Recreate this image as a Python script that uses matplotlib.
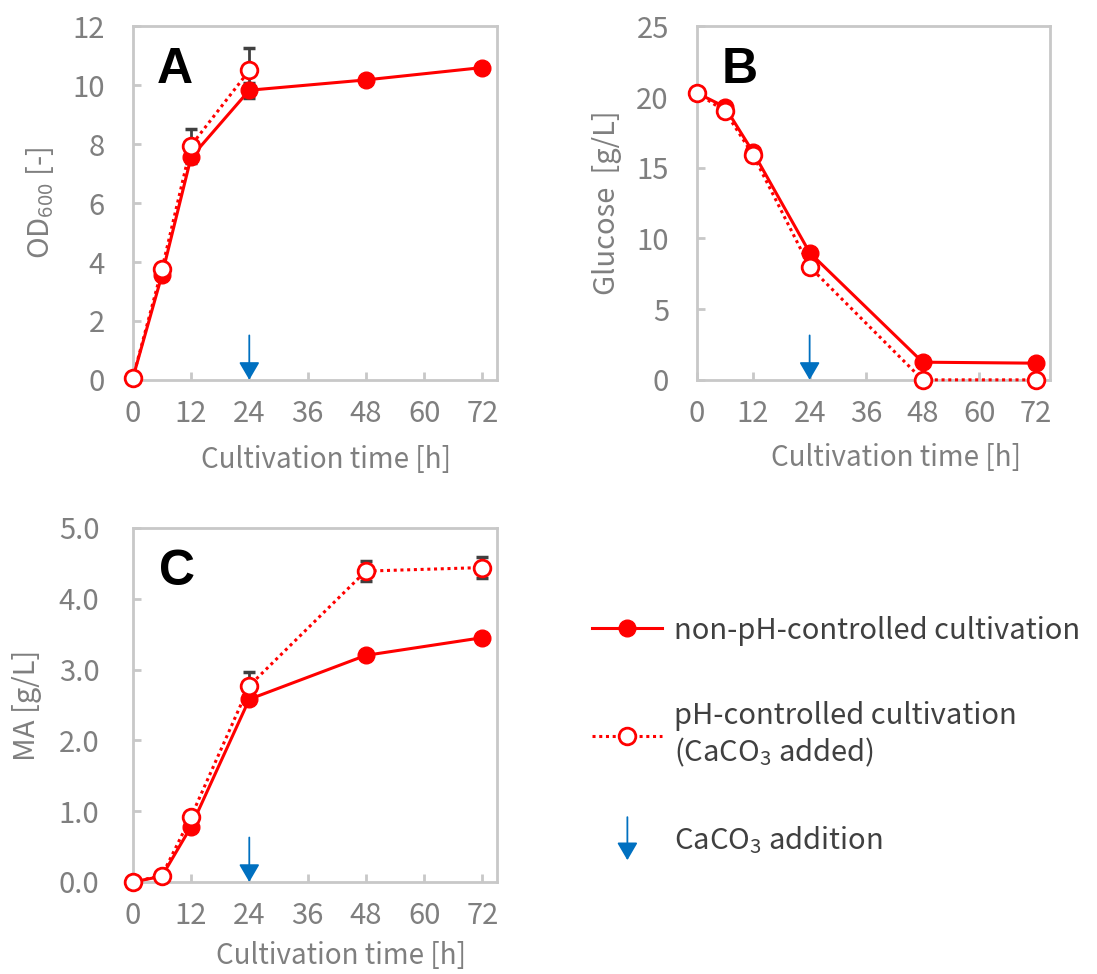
import numpy as np
import matplotlib
matplotlib.use("Agg")
import matplotlib.pyplot as plt
from matplotlib.ticker import FormatStrFormatter
from matplotlib.patches import FancyArrowPatch
from matplotlib.legend_handler import HandlerBase

plt.rcParams['font.family'] = ['Noto Sans CJK JP', 'DejaVu Sans']
plt.rcParams['mathtext.fontset'] = 'custom'
plt.rcParams['mathtext.rm'] = 'Noto Sans CJK JP'
plt.rcParams['mathtext.default'] = 'regular'

# data
time = [0, 6, 12, 24, 48, 72]
time_ph_a = [0, 6, 12, 24]

od_non = [0.05, 3.55, 7.55, 9.83, 10.18, 10.6]
od_non_err = [0, 0.05, 0.2, 0.25, 0, 0]
od_ph = [0.05, 3.75, 7.95, 10.5]
od_ph_err = [0, 0.1, 0.55, 0.75]

glc_non = [20.3, 19.3, 16.1, 9.0, 1.25, 1.18]
glc_ph = [20.3, 19.0, 15.9, 8.0, 0.0, 0.0]

ma_non = [0.0, 0.08, 0.78, 2.58, 3.2, 3.45]
ma_ph = [0.0, 0.09, 0.92, 2.77, 4.39, 4.44]
ma_ph_err = [0, 0, 0, 0.2, 0.14, 0.15]

caco3_time = 24
xticks = [0, 12, 24, 36, 48, 60, 72]

RED = '#ff0000'
BLUE = '#0070c0'
GRAY_TXT = '#7f7f7f'
GRAY_AX = '#c8c8c8'
ERR = '#404040'
FS = 21

fig = plt.figure(figsize=(10.97, 9.74), dpi=100)
axA = fig.add_axes([0.121, 0.610, 0.332, 0.363])
axB = fig.add_axes([0.635, 0.610, 0.322, 0.363])
axC = fig.add_axes([0.121, 0.0945, 0.332, 0.3635])


def style_axis(ax, ymax, ystep, fmt, ypad, label, ylab_x, xlab_xy, letter, letter_x):
    ax.set_xlim(0, 75)
    ax.set_ylim(0, ymax)
    ax.set_xticks(xticks)
    ax.set_yticks(np.arange(0, ymax + ystep / 2, ystep))
    ax.yaxis.set_major_formatter(FormatStrFormatter(fmt))
    for s in ax.spines.values():
        s.set_color(GRAY_AX)
        s.set_linewidth(2)
    ax.tick_params(direction='in', length=6, width=2, color=GRAY_AX,
                   labelsize=FS, labelcolor=GRAY_TXT)
    ax.tick_params(axis='x', pad=14)
    ax.tick_params(axis='y', pad=ypad)
    ax.set_ylabel(label, fontsize=FS, color=GRAY_TXT)
    ax.yaxis.set_label_coords(ylab_x, 0.5)
    ax.yaxis.label.set_va('center')
    ax.set_xlabel('Cultivation time [h]', fontsize=20, color=GRAY_TXT)
    ax.xaxis.set_label_coords(xlab_xy[0], xlab_xy[1])
    ax.xaxis.label.set_va('center')
    ax.text(letter_x, 0.84, letter, transform=ax.transAxes, fontsize=36,
            fontweight='bold', family='Liberation Sans', ha='left',
            va='baseline', color='black')
    ax.annotate('', xy=(caco3_time, 0), xytext=(0, 32), textcoords='offset points',
                arrowprops=dict(arrowstyle='-|>,head_length=0.6,head_width=0.35',
                                mutation_scale=18, color=BLUE, lw=1.3,
                                shrinkA=0, shrinkB=0), zorder=6)


def draw(ax, t1, y1, e1, t2, y2, e2):
    if e1 is not None:
        ax.errorbar(t1, y1, yerr=e1, fmt='none', ecolor=ERR, elinewidth=2,
                    capsize=4, capthick=2.5, zorder=2, clip_on=False)
    if e2 is not None:
        ax.errorbar(t2, y2, yerr=e2, fmt='none', ecolor=ERR, elinewidth=2,
                    capsize=4, capthick=2.5, zorder=2, clip_on=False)
    l1, = ax.plot(t1, y1, '-', color=RED, lw=2.2, marker='o', ms=12,
                  mfc=RED, mec=RED, zorder=3, clip_on=False)
    l2, = ax.plot(t2, y2, linestyle=(0, (1, 1.2)), color=RED, lw=2.2, marker='o',
                  ms=12, mfc='white', mec=RED, mew=2, zorder=4, clip_on=False)
    return l1, l2


hA1, hA2 = draw(axA, time, od_non, od_non_err, time_ph_a, od_ph, od_ph_err)
draw(axB, time, glc_non, None, time, glc_ph, None)
draw(axC, time, ma_non, None, time, ma_ph, ma_ph_err)

style_axis(axA, 12, 2, '%d', 20, 'OD$_{600}$ [-]', -0.255, (0.53, -0.226), 'A', 0.066)
style_axis(axB, 25, 5, '%d', 20, 'Glucose  [g/L]', -0.255, (0.564, -0.22), 'B', 0.071)
style_axis(axC, 5, 1, '%.1f', 24, 'MA [g/L]', -0.291, (0.571, -0.21), 'C', 0.071)


class HandlerDownArrow(HandlerBase):
    def create_artists(self, legend, orig_handle, xdescent, ydescent,
                       width, height, fontsize, trans):
        xc = -xdescent + width / 2
        yc = -ydescent + height / 2
        arr = FancyArrowPatch((xc, yc + 16), (xc, yc - 15),
                              arrowstyle='-|>,head_length=0.6,head_width=0.35',
                              mutation_scale=18, color=BLUE, lw=1.3,
                              shrinkA=0, shrinkB=0, transform=trans)
        return [arr]


arrow_proxy = FancyArrowPatch((0, 0), (0, 1))
leg = fig.legend([hA1, hA2, arrow_proxy],
                 ['non-pH-controlled cultivation',
                  'pH-controlled cultivation\n(CaCO$_3$ added)',
                  'CaCO$_3$ addition'],
                 handler_map={arrow_proxy: HandlerDownArrow()},
                 loc='upper left', bbox_to_anchor=(0.54, 0.368),
                 frameon=False, fontsize=FS, numpoints=1, handlelength=2.4,
                 handletextpad=0.4, labelspacing=1.9, borderpad=0,
                 borderaxespad=0)
for t in leg.get_texts():
    t.set_color('#404040')

fig.savefig('out.png', dpi=100)
